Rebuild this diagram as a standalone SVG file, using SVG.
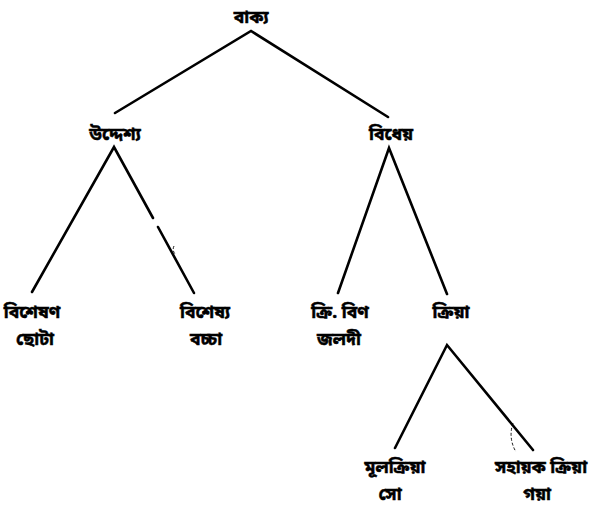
<svg xmlns="http://www.w3.org/2000/svg" width="591" height="507" viewBox="0 0 591 507">
<style>
.t{font-family:"Noto Sans Bengali","Noto Serif Bengali","Lohit Bengali","FreeSans","Noto Sans",sans-serif;font-size:17.5px;font-weight:bold;fill:#000;stroke:#000;stroke-width:0.5;text-anchor:middle}
.e{stroke:#000;stroke-width:2.6;fill:none;stroke-linecap:round}
.m{stroke:#000;stroke-width:0.9;fill:none;stroke-dasharray:3 2}
</style>
<rect width="591" height="507" fill="#fff"/>
<g id="connectors">
<path class="e" d="M115,113 L251,31 L388,117"/>
<path class="e" d="M32,292 L114,147 L153,218"/>
<path class="e" d="M158,227 L194,293"/>
<path class="e" d="M338,293 L389,148 L447,294"/>
<path class="e" d="M395,448 L447,345 L533,450"/>
<path class="m" d="M174,246 Q172,250 175,254"/>
<path class="m" d="M513,423 Q508,438 516,452"/>
</g>
<g id="n-vakya"><text class="t" x="251" y="23">বাক্য</text></g>
<g id="n-uddeshya"><text class="t" x="115" y="140">উদ্দেশ্য</text></g>
<g id="n-vidheya"><text class="t" x="391" y="140">বিধেয়</text></g>
<g id="n-visheshan"><text class="t" x="32" y="318">বিশেষণ</text><text class="t" x="35" y="345">ছোটা</text></g>
<g id="n-visheshya"><text class="t" x="205" y="318">বিশেষ্য</text><text class="t" x="206" y="345">বচ্চা</text></g>
<g id="n-krivin"><text class="t" x="340" y="318">ক্রি. বিণ</text><text class="t" x="339" y="345">জলদী</text></g>
<g id="n-kriya"><text class="t" x="451" y="318">ক্রিয়া</text></g>
<g id="n-mulkriya"><text class="t" x="395" y="473">মূলক্রিয়া</text><text class="t" x="390" y="500">সো</text></g>
<g id="n-sahayak"><text class="t" x="541" y="473">সহায়ক ক্রিয়া</text><text class="t" x="537" y="500">গয়া</text></g>
</svg>
